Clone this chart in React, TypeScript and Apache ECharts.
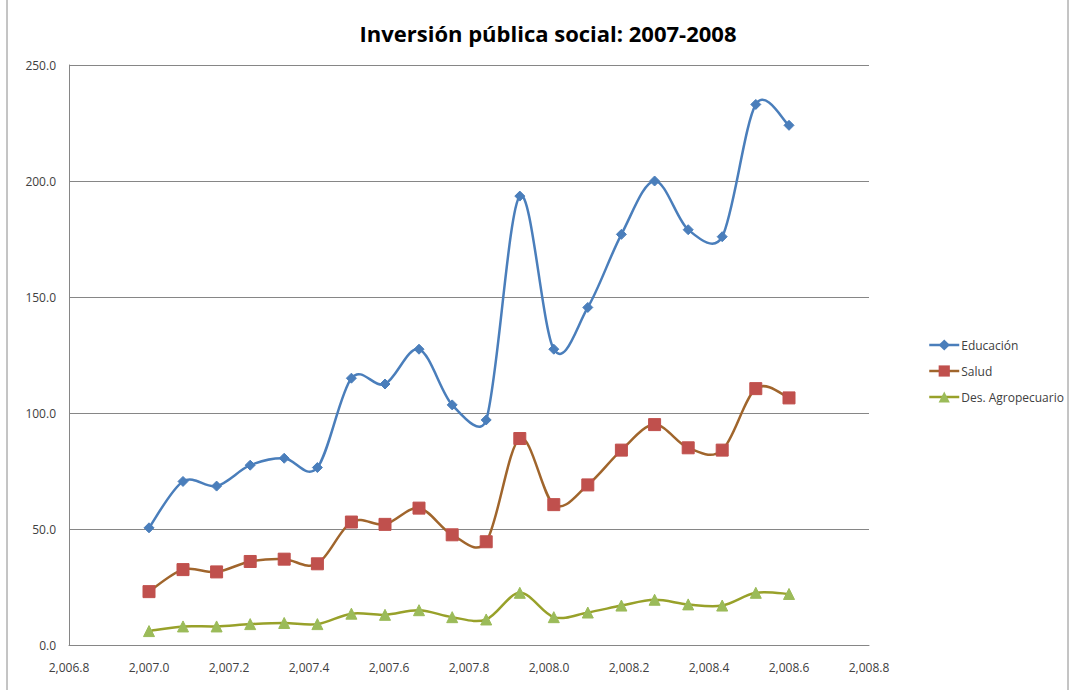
import React, { useEffect, useRef } from "react";
import * as echarts from "echarts";

const title = "Inversión pública social: 2007-2008";
const seriesNames = ["Educación", "Salud", "Des. Agropecuario"];
const xValues = [
  2007.0, 2007.085, 2007.169, 2007.253, 2007.338, 2007.421, 2007.506, 2007.59, 2007.675, 2007.758,
  2007.843, 2007.927, 2008.012, 2008.097, 2008.181, 2008.264, 2008.348, 2008.433, 2008.517, 2008.6,
];
const educacion = [50.5, 70.5, 68.5, 77.5, 80.5, 76.5, 115, 112.5, 127.5, 103.5, 97, 193.5, 127.5, 145.5, 177, 200, 179, 176, 233, 224];
const salud = [23, 32.5, 31.5, 36, 37, 35, 53, 52, 59, 47.5, 44.5, 89, 60.5, 69, 84, 95, 85, 84, 110.5, 106.5];
const agro = [6, 8, 8, 9, 9.5, 9, 13.5, 13, 15, 12, 11, 22.5, 12, 14, 17, 19.5, 17.5, 17, 22.5, 22];
const xMin = 2006.8;
const xMax = 2008.8;
const xStep = 0.2;
const yMin = 0;
const yMax = 250;
const yStep = 50;

const pair = (ys: number[]) => ys.map((y, i) => [xValues[i], y]);

// Excel-like smoothed curve (Catmull-Rom Bezier with arm lengths capped at half the segment)
const curveSeries = (ys: number[], color: string) => ({
  type: "custom",
  name: "_curve",
  silent: true,
  clip: false,
  data: [[xValues[0], ys[0]]],
  renderItem: (_params: any, api: any) => {
    const p = xValues.map((x, i) => api.coord([x, ys[i]]));
    const n = p.length;
    const arm = (a: number[], b: number[], seg: number) => {
      let dx = (b[0] - a[0]) / 6;
      let dy = (b[1] - a[1]) / 6;
      const len = Math.hypot(dx, dy);
      const cap = seg / 2;
      if (len > cap && len > 0) {
        dx *= cap / len;
        dy *= cap / len;
      }
      return [dx, dy];
    };
    let d = `M${p[0][0]},${p[0][1]}`;
    for (let i = 0; i < n - 1; i++) {
      const p0 = p[i - 1] || p[i];
      const p1 = p[i];
      const p2 = p[i + 1];
      const p3 = p[i + 2] || p[i + 1];
      const seg = Math.hypot(p2[0] - p1[0], p2[1] - p1[1]);
      const a1 = arm(p0, p2, seg);
      const a2 = arm(p1, p3, seg);
      d += ` C${p1[0] + a1[0]},${p1[1] + a1[1]} ${p2[0] - a2[0]},${p2[1] - a2[1]} ${p2[0]},${p2[1]}`;
    }
    return {
      type: "path",
      shape: { pathData: d },
      style: { stroke: color, lineWidth: 2.5, fill: "none" },
    };
  },
  z: 2,
});

export default function App() {
  const ref = useRef<HTMLDivElement>(null);
  useEffect(() => {
    if (!ref.current) return;
    const chart = echarts.init(ref.current, undefined, { renderer: "svg" });
    const font = "'Open Sans', 'Liberation Sans', sans-serif";
    const colors = [
      { line: "#4a7ebb", mark: "#4a7ebb", symbol: "diamond", size: 10 },
      { line: "#a0652c", mark: "#c0504d", symbol: "rect", size: 12 },
      { line: "#98a12a", mark: "#9bbb59", symbol: "triangle", size: 11 },
    ];
    const values = [educacion, salud, agro];
    const markerSeries = values.map((ys, k) => ({
      name: seriesNames[k],
      type: "line",
      data: pair(ys),
      symbol: colors[k].symbol,
      symbolSize: colors[k].size,
      lineStyle: { color: colors[k].line, width: 0, opacity: 0 },
      itemStyle: { color: colors[k].mark, borderColor: colors[k].mark },
      z: 3,
    }));
    chart.setOption({
      animation: false,
      backgroundColor: "#ffffff",
      title: {
        text: title,
        left: 543,
        top: 17,
        textAlign: "center",
        textStyle: { fontFamily: font, fontWeight: "bold", fontSize: 22, color: "#000000" },
      },
      legend: {
        orient: "vertical",
        left: 923,
        top: 334,
        itemWidth: 30,
        itemHeight: 14,
        itemGap: 14,
        textStyle: { fontFamily: font, fontSize: 12, color: "#404040", padding: [0, 0, 0, -3] },
        data: seriesNames.map((name, k) => ({
          name,
          lineStyle: { color: colors[k].line, width: 2.5, opacity: 1 },
        })),
      },
      grid: { left: 69, right: 200, top: 65, bottom: 45, containLabel: false },
      xAxis: {
        type: "value",
        min: xMin,
        max: xMax,
        interval: xStep,
        axisLine: { show: true, lineStyle: { color: "#868686", width: 1 } },
        axisTick: { show: false },
        splitLine: { show: false },
        axisLabel: {
          margin: 16,
          fontFamily: font,
          fontSize: 12,
          color: "#404040",
          formatter: (v: number) =>
            v.toLocaleString("en-US", { minimumFractionDigits: 1, maximumFractionDigits: 1 }),
        },
      },
      yAxis: {
        type: "value",
        min: yMin,
        max: yMax,
        interval: yStep,
        axisLine: { show: true, lineStyle: { color: "#868686", width: 1 } },
        axisTick: { show: false },
        splitLine: { show: true, lineStyle: { color: "#868686", width: 1 } },
        axisLabel: {
          margin: 13,
          fontFamily: font,
          fontSize: 12,
          color: "#404040",
          formatter: (v: number) => v.toFixed(1),
        },
      },
      graphic: [
        {
          type: "rect",
          shape: { x: 7, y: -1, width: 1061, height: 692 },
          style: { fill: "none", stroke: "#8a8a8a", lineWidth: 1 },
          silent: true,
        },
      ],
      series: [
        curveSeries(educacion, colors[0].line),
        curveSeries(salud, colors[1].line),
        curveSeries(agro, colors[2].line),
        ...markerSeries,
      ],
    });
    return () => chart.dispose();
  }, []);
  return (
    <div
      ref={ref}
      style={{ position: "fixed", left: 0, top: 0, width: 1069, height: 690 }}
    />
  );
}
